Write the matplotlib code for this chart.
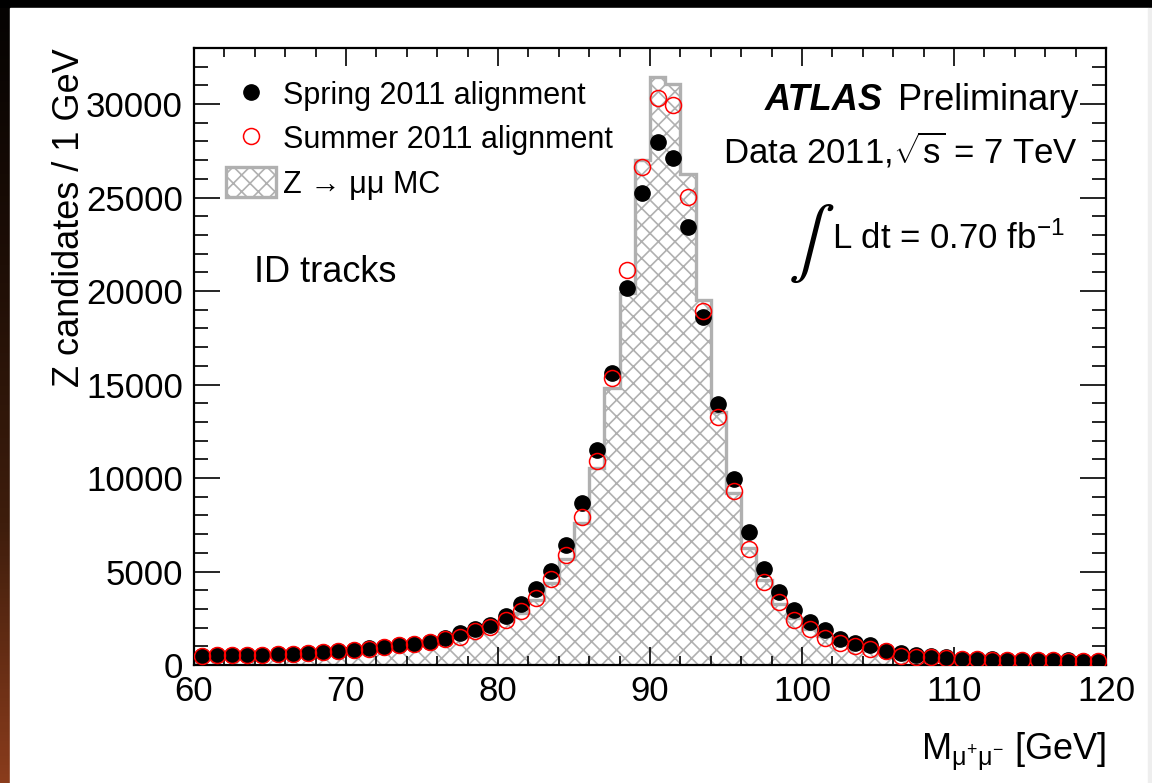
import numpy as np
import matplotlib
matplotlib.use('Agg')
import matplotlib.pyplot as plt
from matplotlib.patches import Rectangle
from matplotlib.ticker import MultipleLocator

# Fuentes estilo ROOT / Helvetica
plt.rcParams['font.family'] = ['Liberation Sans', 'DejaVu Sans']
plt.rcParams['mathtext.fontset'] = 'custom'
plt.rcParams['mathtext.rm'] = 'Liberation Sans'
plt.rcParams['mathtext.it'] = 'Liberation Sans:italic'
plt.rcParams['mathtext.bf'] = 'Liberation Sans:bold'
plt.rcParams['hatch.linewidth'] = 1.2

# Datos: bines de 1 GeV entre 60 y 120 GeV
bin_edges = np.arange(60, 121, 1)
bin_centers = bin_edges[:-1] + 0.5

spring_2011 = [480, 520, 550, 550, 560, 590, 610, 660, 690, 750,
               800, 890, 980, 1070, 1130, 1250, 1420, 1690, 1900, 2140,
               2620, 3250, 4060, 5040, 6410, 8690, 11480, 15600, 20150, 25230,
               27950, 27120, 23410, 18610, 13980, 9940, 7120, 5160, 3920, 2940,
               2280, 1870, 1370, 1160, 1070, 750, 620, 530, 480, 410,
               330, 310, 300, 290, 280, 270, 260, 250, 240, 230]

summer_2011 = [470, 510, 540, 540, 550, 580, 600, 640, 680, 730,
               790, 870, 960, 1050, 1100, 1220, 1400, 1510, 1830, 2030,
               2420, 2900, 3560, 4590, 5910, 7920, 10900, 15350, 21140, 26660,
               30310, 29970, 25050, 18960, 13260, 9310, 6200, 4450, 3380, 2400,
               1900, 1420, 1160, 1030, 840, 750, 500, 440, 450, 390,
               320, 300, 290, 280, 270, 260, 250, 240, 230, 220]

mc_zmumu = [420, 450, 470, 480, 500, 520, 550, 590, 630, 680,
            730, 800, 880, 970, 1060, 1170, 1320, 1480, 1700, 1980,
            2330, 2800, 3450, 4380, 5650, 7590, 10520, 14800, 19870, 27030,
            31460, 31070, 26280, 19500, 13530, 9190, 6250, 4540, 3250, 2500,
            1950, 1560, 1260, 1030, 850, 700, 590, 500, 430, 370,
            320, 290, 260, 240, 220, 200, 190, 180, 170, 160]

fig = plt.figure(figsize=(11.52, 7.83), dpi=100, facecolor='black')

# Marco de fondo (borde negro, degradado a la izquierda, panel blanco)
bg = fig.add_axes([0, 0, 1, 1], zorder=-10)
bg.set_xlim(0, 1152)
bg.set_ylim(783, 0)
bg.axis('off')
grad = np.linspace(0, 1, 256).reshape(-1, 1)
cmap = matplotlib.colors.LinearSegmentedColormap.from_list(
    'borde', ['#050302', '#1e0e06', '#3e1d0c', '#8a3c1c'])
bg.imshow(grad, cmap=cmap, extent=(0, 10, 783, 8), aspect='auto')
bg.add_patch(Rectangle((10, 8), 1138, 775, color='white'))
bg.add_patch(Rectangle((1148, 8), 4, 775, color='#eeeeee'))

ax = fig.add_axes([194 / 1152, 118 / 783, 912 / 1152, 617 / 783])
ax.set_facecolor('white')

mc = ax.stairs(mc_zmumu, bin_edges, fill=True, facecolor='white',
               edgecolor='#b0b0b0', linewidth=2.4, hatch='xx',
               label='Z → μμ MC', zorder=1)
sp, = ax.plot(bin_centers, spring_2011, 'o', color='black', markersize=11,
              linestyle='none', label='Spring 2011 alignment', zorder=3)
su, = ax.plot(bin_centers, summer_2011, 'o', markerfacecolor='none',
              markeredgecolor='red', markeredgewidth=1.1, markersize=11.5,
              linestyle='none', label='Summer 2011 alignment', zorder=4)

ax.set_xlim(60, 120)
ax.set_ylim(0, 33000)

ax.xaxis.set_major_locator(MultipleLocator(10))
ax.xaxis.set_minor_locator(MultipleLocator(2))
ax.yaxis.set_major_locator(MultipleLocator(5000))
ax.yaxis.set_minor_locator(MultipleLocator(1000))
ax.tick_params(which='both', direction='in', top=True, right=True, width=1.2)
ax.tick_params(axis='x', which='major', length=13, pad=7, labelsize=25)
ax.tick_params(axis='x', which='minor', length=6.5)
ax.tick_params(axis='y', which='major', length=19, pad=8, labelsize=25)
ax.tick_params(axis='y', which='minor', length=10)
for s in ax.spines.values():
    s.set_linewidth(1.6)

ax.set_ylabel('Z candidates / 1 GeV', fontsize=26, loc='top')
ax.yaxis.set_label_coords(-0.117, 1.0)
ax.set_xlabel(r'M$_{\mathrm{\mu^{+}\mu^{-}}}$ [GeV]', fontsize=26, loc='right',
              va='baseline')
ax.xaxis.set_label_coords(1.0, -0.154)

leg = ax.legend(handles=[sp, su, mc], loc='upper left',
                bbox_to_anchor=(0.035, 0.95), frameon=False, fontsize=22,
                handlelength=1.65, handleheight=1.15, handletextpad=0.22,
                labelspacing=0.38, borderpad=0, borderaxespad=0)

ax.text(0.066, 0.621, 'ID tracks', transform=ax.transAxes, fontsize=26,
        ha='left', va='baseline')

# Etiqueta ATLAS
ax.text(0.9693, 0.9, 'Preliminary', transform=ax.transAxes,
        fontsize=26, ha='right', va='baseline')
ax.text(0.755, 0.9, 'ATLAS', transform=ax.transAxes, fontsize=26,
        fontweight='bold', fontstyle='italic', ha='right', va='baseline')
ax.text(0.9693, 0.813, r'Data 2011,$\sqrt{\mathrm{s}}$ = 7 TeV',
        transform=ax.transAxes, fontsize=25, ha='right', va='baseline')
ax.text(0.651, 0.655, r'$\int$', transform=ax.transAxes, fontsize=50,
        ha='left', va='baseline', math_fontfamily='stix')
ax.text(0.7, 0.674, r'L dt = 0.70 fb$^{-1}$', transform=ax.transAxes,
        fontsize=25, ha='left', va='baseline')

fig.savefig('out.png', dpi=100, facecolor='black')
